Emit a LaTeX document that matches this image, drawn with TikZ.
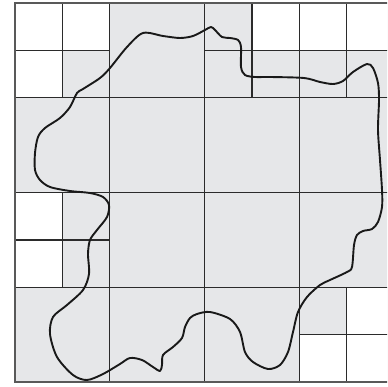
\documentclass[tikz,border=0pt]{standalone}
\definecolor{cellgray}{HTML}{E6E7E9}
\definecolor{gridline}{HTML}{2B2B2B}
\tikzset{
  gridrule/.style={draw=gridline,line width=1.1pt},
  borderrule/.style={draw=gray!70!black,line width=1.5pt},
  blob/.style={draw=black!90,line width=1.9pt,line join=round}
}
\newcommand{\cs}{47.4}
\begin{document}
\begin{tikzpicture}[x=1pt,y=-1pt]
\useasboundingbox (0,0) rectangle (387,387);
\begin{scope}
\clip (0,0) rectangle (387,387);
\begin{scope}[shift={(15,3)}]
\fill[cellgray] (0,0) rectangle ({8*\cs},{8*\cs});
% white unit cells
\foreach \c/\r in {0/0,1/0,0/1,5/0,6/0,7/0,0/4,0/5,7/6,6/7,7/7}
  \fill[white] ({\c*\cs},{\r*\cs}) rectangle ++(\cs,\cs);
% horizontal rules
\foreach \r/\a/\b in {1/0/2,1/4/8,2/0/8,4/0/8,5/0/2,6/0/8,7/6/8}
  \draw[gridrule] ({\a*\cs},{\r*\cs}) -- ({\b*\cs},{\r*\cs});
% vertical rules
\foreach \c/\a/\b in {1/0/2,1/4/6,2/0/8,4/0/8,5/0/2,6/0/8,7/0/2,7/6/8}
  \draw[gridrule] ({\c*\cs},{\a*\cs}) -- ({\c*\cs},{\b*\cs});
\draw[borderrule] (0,0) rectangle ({8*\cs},{8*\cs});
\end{scope}
\draw[blob] plot[smooth cycle,tension=0.5] coordinates {
(110,68) (127,47) (143,33) (163,36) (180,38) (193,36) (205,30) (211,27) (215,30) (222,37) (230,38) (238,40) (241,47) (241,67) (245,75) (255,77) (270,77) (304,78) (320,82) (333,84) (343,81) (353,72) (367,64) (373,68) (378,83) (379,100) (378,130) (380,160) (382,190) (382,207) (378,222) (372,229) (363,231) (357,235) (354,245) (352,267) (347,272) (330,280) (320,285) (307,297) (298,312) (293,332) (288,352) (280,365) (268,369) (253,362) (245,352) (240,332) (230,319) (210,312) (197,314) (190,318) (185,327) (182,338) (173,347) (163,355) (162,365) (160,371) (153,367) (142,360) (130,358) (120,364) (103,374) (87,380) (73,375) (57,357) (50,334) (53,317) (67,305) (83,290) (89,274) (88,254) (90,240) (97,230) (107,217) (109,205) (103,197) (90,193) (70,191) (50,187) (40,180) (35,170) (35,153) (38,137) (45,128) (60,118) (70,107) (77,93) (83,89) (100,78)
};
\end{scope}
\end{tikzpicture}
\end{document}
